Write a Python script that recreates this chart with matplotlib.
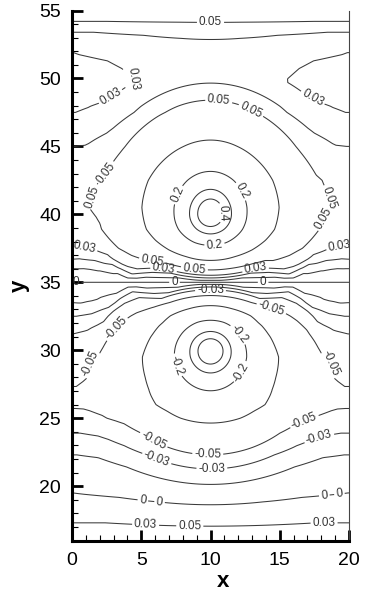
import numpy as np
import matplotlib
matplotlib.use("Agg")
import matplotlib.pyplot as plt

# vortex centres and radial core profile (read from the ring radii)
x_c = 10.0
y_up, y_low = 40.0, 30.0
r_tab = [0, 0.5, 1.0, 1.6, 2.8, 4.0, 5.2, 6.2, 7.1, 8.0, 9.0, 10.0, 11.0, 12.0, 14.0]
phi_tab = [0.55, 0.45, 0.355, 0.255, 0.155, 0.095, 0.058, 0.045, 0.033, 0.016,
           0.009, 0.005, 0.003, 0.0015, 0.0]
stretch_up, stretch_low = 1.2, 1.08   # outward side of the upper / lower vortex

# field values along the side walls (x = 0 and x = 20)
y_edge = [16, 17.3, 19.5, 22.3, 23.9, 25.0, 26.0, 27.0, 28.0, 29.5, 31.2, 32.5, 33.5,
          35, 36.0, 36.7, 37.7, 38.9, 40.5, 42.5, 45.0, 47.5, 49.7, 51.9, 53.4, 54.2, 55]
g_edge = [0.008, 0.0, -0.01, -0.02, -0.03, -0.045, -0.052, -0.051, -0.048, -0.046,
          -0.03, -0.02, -0.01, 0.0, 0.01, 0.02, 0.03, 0.042, 0.047, 0.044, 0.03,
          0.02, 0.016, 0.02, 0.03, 0.05, 0.07]

levels = [-0.4, -0.3, -0.2, -0.1, -0.05, -0.03, -0.02, -0.01, 0.0,
          0.01, 0.02, 0.03, 0.05, 0.1, 0.2, 0.3, 0.4]

# (text, level, x, y) of the inline labels
labels = [
    ("0.05", 0.05, 10.0, 54.2),
    ("0.03", 0.02, 5.0, 50.6), ("0.03", 0.02, 3.0, 48.3), ("0.03", 0.02, 17.4, 48.6),
    ("0.05", 0.05, 10.6, 48.4), ("0.05", 0.05, 13.0, 47.8),
    ("0.05", 0.05, 0.9, 41.5), ("0.05", 0.05, 1.9, 43.4),
    ("0.05", 0.05, 18.0, 39.8), ("0.05", 0.05, 18.8, 41.3),
    ("0.2", 0.2, 7.5, 41.5), ("0.2", 0.2, 12.6, 41.9), ("0.2", 0.2, 10.3, 37.6),
    ("0.4", 0.4, 10.6, 40.1),
    ("0.03", 0.03, 0.9, 37.6), ("0.03", 0.03, 19.3, 37.7),
    ("0.05", 0.05, 5.8, 36.5), ("0.03", 0.03, 6.6, 35.9),
    ("0.05", 0.05, 8.8, 35.7), ("0.03", 0.03, 13.3, 35.8),
    ("0", 0.0, 0.3, 35.0), ("0", 0.0, 7.4, 35.0), ("0", 0.0, 13.8, 35.0),
    ("-0.03", -0.03, 10.0, 34.5), ("-0.05", -0.05, 14.5, 33.4),
    ("-0.05", -0.05, 3.0, 31.8),
    ("-0.05", -0.05, 1.4, 29.0), ("-0.05", -0.05, 18.6, 29.0),
    ("-0.2", -0.2, 7.3, 28.8), ("-0.2", -0.2, 12.2, 31.3), ("-0.2", -0.2, 12.2, 28.4),
    ("-0.05", -0.05, 5.9, 23.4), ("-0.05", -0.05, 9.8, 22.3), ("-0.05", -0.05, 16.7, 25.0),
    ("-0.03", -0.03, 6.0, 21.7), ("-0.03", -0.03, 10.1, 21.0), ("-0.03", -0.03, 17.9, 23.4),
    ("0", -0.01, 5.1, 18.8), ("0", -0.01, 6.3, 18.6),
    ("0", -0.01, 18.2, 19.5), ("0", -0.01, 19.3, 19.5),
    ("0.03", 0.0, 5.3, 16.8), ("0.05", 0.0, 8.5, 16.7), ("0.03", 0.0, 18.2, 16.9),
]


def vortex_part(X, Y):
    v = np.zeros(np.broadcast(X, Y).shape)
    for shift in (-20.0, 0.0, 20.0):
        dx = X - (x_c + shift)
        dy1 = Y - y_up
        rho1 = np.hypot(dx, dy1 / np.where(dy1 > 0, stretch_up, 1.0))
        dy2 = Y - y_low
        rho2 = np.hypot(dx, dy2 / np.where(dy2 < 0, stretch_low, 1.0))
        v = v + np.interp(rho1, r_tab, phi_tab) - np.interp(rho2, r_tab, phi_tab)
    return v


plt.rcParams['font.family'] = ['Liberation Sans', 'DejaVu Sans']
plt.rcParams['contour.negative_linestyle'] = 'solid'

xs = np.linspace(0, 20, 401)
ys = np.linspace(16, 55, 781)
X, Y = np.meshgrid(xs, ys)
background = np.interp(ys, y_edge, g_edge) - vortex_part(np.zeros_like(ys), ys)
F = vortex_part(X, Y) + background[:, None]

fig = plt.figure(figsize=(3.7, 5.91), dpi=100)
ax = fig.add_axes([72 / 370, 50.5 / 591, 277 / 370, 530 / 591])

# one contour set per level so each label can be put on the wanted line
sets = {}
for lev in levels:
    sets[lev] = ax.contour(X, Y, F, levels=[lev], colors='#3a3a3a', linewidths=0.75)
for text, lev, lx, ly in labels:
    sets[lev].clabel(fmt={lev: text}, manual=[(lx, ly)], inline=True,
                     inline_spacing=2, fontsize=8.5, colors='#333333')

ax.set_xlim(0, 20)
ax.set_ylim(16, 55)
ax.set_xticks([0, 5, 10, 15, 20])
ax.set_xticks(np.arange(0, 21, 1), minor=True)
ax.set_yticks(np.arange(20, 56, 5))
ax.set_yticks(np.arange(16, 56, 1), minor=True)
ax.tick_params(which='major', direction='in', length=8, width=2.0,
               labelsize=14, pad=8, top=False, right=False)
ax.tick_params(which='minor', direction='in', length=4.5, width=0.8,
               top=False, right=False)
ax.spines['top'].set_visible(False)
ax.spines['left'].set_linewidth(2.2)
ax.spines['bottom'].set_linewidth(2.2)
ax.spines['right'].set_linewidth(0.8)
ax.spines['right'].set_color('#444444')

ax.set_xlabel('x', fontsize=16, fontweight='bold')
ax.set_ylabel('y', fontsize=16, fontweight='bold')
ax.xaxis.set_label_coords(0.545, -0.057)
ax.yaxis.set_label_coords(-0.152, 0.48)

fig.savefig('out.png', dpi=100)
